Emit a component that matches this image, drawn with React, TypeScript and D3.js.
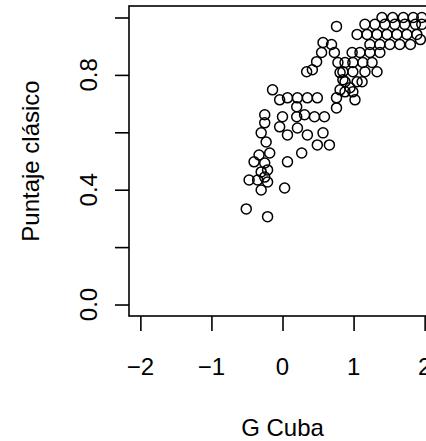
import React, { useEffect, useRef } from 'react';
import * as d3 from 'd3';

// G Cuba (x) vs Puntaje clásico (y)
const gCuba = [
  -0.51, -0.21, -0.47, -0.35, -0.25, -0.21, -0.30, 0.03, -0.40, -0.33,
  -0.25, -0.21, -0.30, -0.18, -0.23, -0.30, -0.25, -0.25, 0.07, 0.27,
  -0.04, 0.07, 0.21, 0.35, 0.57, 0.49, 0.66, 0.00, 0.20, 0.31,
  0.45, 0.59, 0.20, -0.14, -0.04, 0.07, 0.21, 0.35, 0.49, 0.76,
  0.76, 0.81, 0.85, 0.34, 0.42, 0.48, 0.55, 0.73, 0.57, 0.69,
  0.76, 0.78, 0.81, 0.88, 0.88, 0.99, 0.95, 1.05, 0.85, 0.99,
  1.16, 1.33, 0.88, 0.99, 1.13, 1.26, 0.98, 1.09, 1.23, 1.37,
  1.23, 1.37, 1.51, 1.65, 1.05, 1.19, 1.33, 1.47, 1.61, 1.75,
  1.89, 1.16, 1.30, 1.44, 1.58, 1.72, 1.87, 1.40, 1.55, 1.70,
  1.84, 1.96, 1.96, 1.12, 1.02, 1.80, 1.94,
];
const puntaje = [
  0.333, 0.306, 0.434, 0.434, 0.444, 0.427, 0.399, 0.406, 0.497, 0.521,
  0.493, 0.469, 0.462, 0.528, 0.566, 0.598, 0.633, 0.661, 0.497, 0.528,
  0.619, 0.591, 0.615, 0.591, 0.598, 0.556, 0.556, 0.654, 0.654, 0.661,
  0.654, 0.654, 0.689, 0.748, 0.713, 0.72, 0.72, 0.72, 0.72, 0.72,
  0.685, 0.748, 0.783, 0.811, 0.818, 0.846, 0.878, 0.878, 0.913, 0.906,
  0.969, 0.843, 0.808, 0.776, 0.741, 0.741, 0.755, 0.776, 0.811, 0.811,
  0.811, 0.811, 0.843, 0.843, 0.843, 0.843, 0.878, 0.878, 0.878, 0.878,
  0.906, 0.906, 0.906, 0.906, 0.941, 0.941, 0.941, 0.941, 0.941, 0.941,
  0.941, 0.976, 0.976, 0.976, 0.976, 0.976, 0.976, 1.0, 1.0, 1.0,
  1.0, 1.0, 0.976, 0.776, 0.713, 0.906, 0.923,
];

const xTicks = [-2, -1, 0, 1, 2];
const xTickLabels = ['\u22122', '\u22121', '0', '1', '2'];
const yTicks = [0, 0.2, 0.4, 0.6, 0.8, 1];
const yTickLabels = ['0.0', '', '0.4', '', '0.8', ''];
const xTitle = 'G Cuba';
const yTitle = 'Puntaje clásico';

function App() {
  const ref = useRef<SVGSVGElement>(null);

  useEffect(() => {
    const svg = d3.select(ref.current);
    svg.selectAll('*').remove();

    const W = 426;
    const H = 441;
    const font = '"Liberation Sans", Arial, sans-serif';
    const fs = 24;

    // R style: limits padded by 4%
    const x = d3.scaleLinear().domain([-2.16, 2.16]).range([129, 436]);
    const y = d3.scaleLinear().domain([-0.04, 1.04]).range([316, 6]);

    svg.append('rect').attr('width', W).attr('height', H).attr('fill', 'white');

    // plot box
    svg.append('rect')
      .attr('x', x(-2.16))
      .attr('y', y(1.04))
      .attr('width', x(2.16) - x(-2.16))
      .attr('height', y(-0.04) - y(1.04))
      .attr('fill', 'none')
      .attr('stroke', 'black')
      .attr('stroke-width', 1.6);

    // y axis ticks
    const yAxis = svg.append('g')
      .attr('transform', `translate(${x(-2.16)},0)`)
      .call(d3.axisLeft(y).tickValues(yTicks).tickSize(14).tickFormat(() => ''));
    yAxis.select('.domain').remove();
    yAxis.selectAll('line').attr('stroke', 'black').attr('stroke-width', 1.6);

    // x axis ticks
    const xAxis = svg.append('g')
      .attr('transform', `translate(0,${y(-0.04)})`)
      .call(d3.axisBottom(x).tickValues(xTicks).tickSize(15).tickFormat(() => ''));
    xAxis.select('.domain').remove();
    xAxis.selectAll('line').attr('stroke', 'black').attr('stroke-width', 1.6);

    // tick labels
    svg.append('g')
      .selectAll('text')
      .data(yTicks)
      .join('text')
      .attr('transform', d => `translate(97,${y(d)}) rotate(-90)`)
      .attr('text-anchor', 'middle')
      .attr('font-family', font)
      .attr('font-size', fs)
      .attr('fill', 'black')
      .text((d, i) => yTickLabels[i]);

    svg.append('g')
      .selectAll('text')
      .data(xTicks)
      .join('text')
      .attr('x', d => x(d))
      .attr('y', 375)
      .attr('text-anchor', 'middle')
      .attr('font-family', font)
      .attr('font-size', fs)
      .attr('fill', 'black')
      .text((d, i) => xTickLabels[i]);

    // axis titles
    svg.append('text')
      .attr('x', x(0))
      .attr('y', 436)
      .attr('text-anchor', 'middle')
      .attr('font-family', font)
      .attr('font-size', fs)
      .attr('fill', 'black')
      .text(xTitle);

    svg.append('text')
      .attr('transform', `translate(39,${(y(1.04) + y(-0.04)) / 2}) rotate(-90)`)
      .attr('text-anchor', 'middle')
      .attr('font-family', font)
      .attr('font-size', fs)
      .attr('fill', 'black')
      .text(yTitle);

    // points (open circles, pch = 1)
    svg.append('g')
      .selectAll('circle')
      .data(gCuba.map((g, i) => [g, puntaje[i]]))
      .join('circle')
      .attr('cx', d => x(d[0]))
      .attr('cy', d => y(d[1]))
      .attr('r', 5)
      .attr('fill', 'none')
      .attr('stroke', 'black')
      .attr('stroke-width', 1.5);
  }, []);

  return (
    <svg
      ref={ref}
      width={426}
      height={441}
      style={{ position: 'absolute', left: 0, top: 0, display: 'block' }}
    />
  );
}

export default App;
